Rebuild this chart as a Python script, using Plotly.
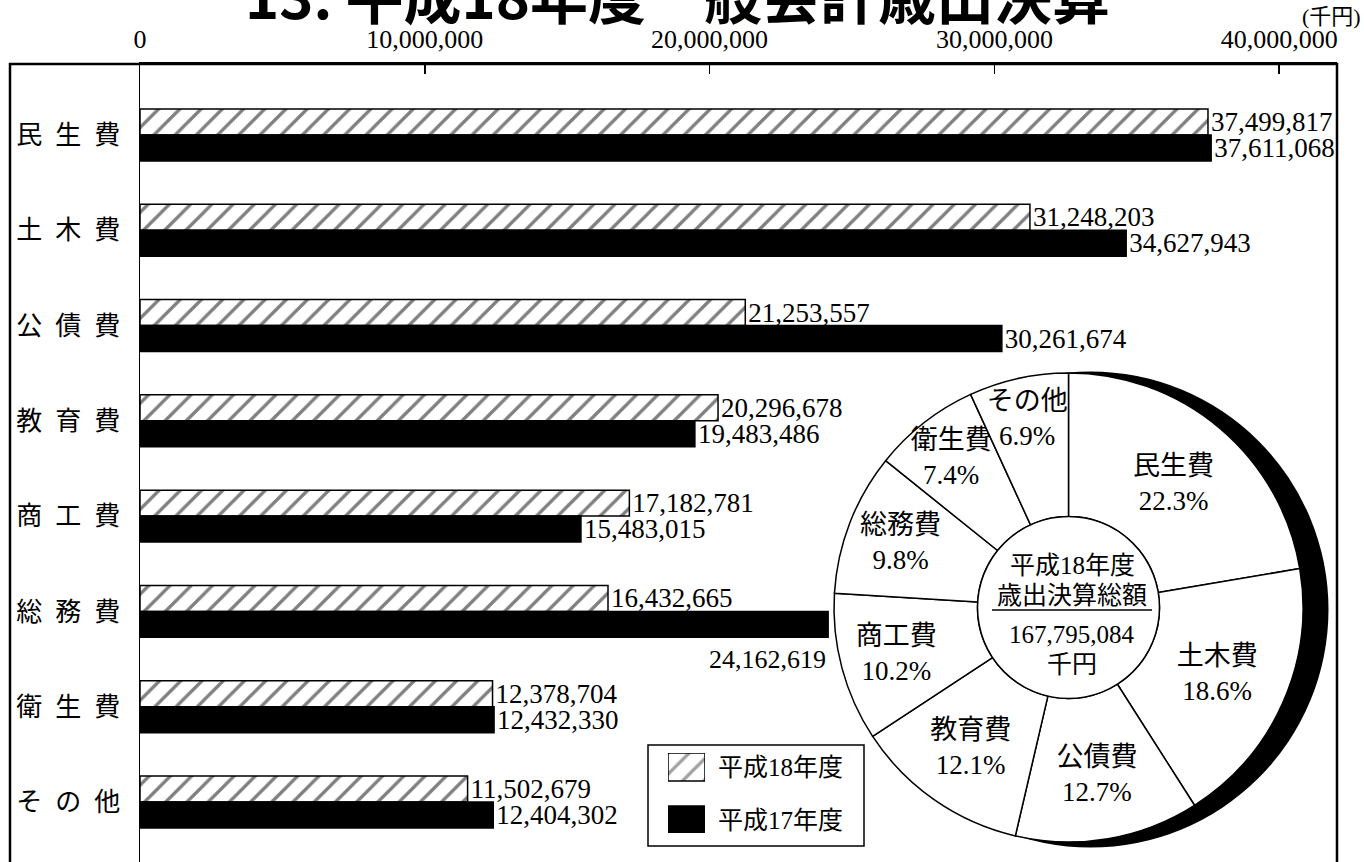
import plotly.graph_objects as go

# ---------------- data ----------------
categories = ["民生費", "土木費", "公債費", "教育費", "商工費", "総務費", "衛生費", "その他"]
category_labels = ["民\u2002生\u2002費", "土\u2002木\u2002費", "公\u2002債\u2002費", "教\u2002育\u2002費",
                   "商\u2002工\u2002費", "総\u2002務\u2002費", "衛\u2002生\u2002費", "そ\u2002の\u2002他"]
h18_values = [37499817, 31248203, 21253557, 20296678, 17182781, 16432665, 12378704, 11502679]
h17_values = [37611068, 34627943, 30261674, 19483486, 15483015, 24162619, 12432330, 12404302]
series_names = ["平成18年度", "平成17年度"]
x_tick_values = [0, 10000000, 20000000, 30000000, 40000000]
title_text = "13. 平成18年度一般会計歳出決算"
unit_text = "(千円)"
center_title = ["平成18年度", "歳出決算総額"]
center_unit = "千円"

# ---------------- layout helpers ----------------
W, H = 1364, 862
PL, PR, PT, PB = 140, 1337, 64, 862


def px(x):
    return (x - PL) / (PR - PL)


def py(y):
    return (PB - y) / (PB - PT)


FONT = "Liberation Serif, Noto Sans CJK JP, serif"
HATCH = dict(shape="/", fgcolor="black", bgcolor="white", size=15, solidity=0.22)

fig = go.Figure()

# bar text positions: the 総務費 平成17年度 label is placed below the bar (annotation)
special = "総務費"
h17_textpos = ["none" if c == special else "outside" for c in categories]

fig.add_trace(go.Bar(
    y=categories, x=h18_values, orientation="h", name=series_names[0],
    marker=dict(color="white", line=dict(color="black", width=1.5), pattern=HATCH),
    texttemplate="%{x:,}", textposition="outside", cliponaxis=False, constraintext="none",
    textfont=dict(family=FONT, size=26, color="black"), hoverinfo="skip", showlegend=False,
))
fig.add_trace(go.Bar(
    y=categories, x=h17_values, orientation="h", name=series_names[1],
    marker=dict(color="black", line=dict(color="black", width=1.5)),
    texttemplate="%{x:,}", textposition=h17_textpos, cliponaxis=False, constraintext="none",
    textfont=dict(family=FONT, size=26, color="black"), hoverinfo="skip", showlegend=False,
))

# legend swatches (own small axes so that the hatch pattern is drawn by plotly)
fig.add_trace(go.Bar(
    y=series_names, x=[1, 1], orientation="h", xaxis="x2", yaxis="y2", width=0.53,
    marker=dict(color=["white", "black"], line=dict(color="black", width=1.5),
                pattern=dict(shape=["/", ""], fgcolor="black", bgcolor="white", size=15, solidity=0.22)),
    showlegend=False, hoverinfo="skip",
))

# pie (donut) of 平成18年度
pie_left, pie_right, pie_top, pie_bottom = 834, 1303, 373, 842
pie_cx, pie_cy = (pie_left + pie_right) / 2, (pie_top + pie_bottom) / 2
pie_r = (pie_right - pie_left) / 2
hole = 0.388
fig.add_trace(go.Pie(
    labels=categories, values=h18_values, sort=False, direction="clockwise", rotation=0,
    hole=hole,
    marker=dict(colors=["white"] * len(categories), line=dict(color="black", width=1.5)),
    texttemplate="%{label}<br>%{percent:.1%}", textposition="inside",
    insidetextorientation="horizontal",
    textfont=dict(family=FONT, size=27, color="black"),
    domain=dict(x=[px(pie_left), px(pie_right)], y=[py(pie_bottom), py(pie_top)]),
    showlegend=False, hoverinfo="skip",
))

annotations = []
# 総務費 平成17年度 label
idx = categories.index(special)
annotations.append(dict(
    x=h17_values[idx], y=special, xref="x", yref="y", text=f"{h17_values[idx]:,}",
    xanchor="right", yanchor="middle", yshift=-48, showarrow=False,
    font=dict(family=FONT, size=26, color="black"),
))
# title (cut off at top of the page)
annotations.append(dict(
    x=px(677), y=py(-6), xref="paper", yref="paper", text=title_text, showarrow=False,
    xanchor="center", yanchor="middle",
    font=dict(family="Noto Sans CJK JP", size=58, color="black", weight="bold"),
))
annotations.append(dict(
    x=px(1363), y=py(17), xref="paper", yref="paper", text=unit_text, showarrow=False,
    xanchor="right", yanchor="middle", font=dict(family=FONT, size=22, color="black"),
))
# legend texts
for name, yy in zip(series_names, [767, 820]):
    annotations.append(dict(
        x=px(716), y=py(yy), xref="paper", yref="paper", text=name, showarrow=False,
        xanchor="left", yanchor="middle", font=dict(family=FONT, size=25, color="black"),
    ))
# center of donut
total = sum(h18_values)
for txt, yy in [(center_title[0], 565), (center_title[1], 595), (f"{total:,}", 634), (center_unit, 664)]:
    annotations.append(dict(
        x=px(1072), y=py(yy), xref="paper", yref="paper", text=txt, showarrow=False,
        xanchor="center", yanchor="middle", font=dict(family=FONT, size=25, color="black"),
    ))

hr = pie_r * hole
shapes = [
    # shadow crescent behind donut
    dict(type="circle", xref="paper", yref="paper", layer="below",
         x0=px(pie_cx + 22 - 238), x1=px(pie_cx + 22 + 238),
         y0=py(pie_cy + 2 + 238), y1=py(pie_cy + 2 - 238),
         fillcolor="black", line=dict(color="black", width=0)),
    # white hole of donut
    dict(type="circle", xref="paper", yref="paper", layer="above",
         x0=px(pie_cx - hr), x1=px(pie_cx + hr), y0=py(pie_cy + hr), y1=py(pie_cy - hr),
         fillcolor="white", line=dict(color="black", width=1.5)),
    # underline in donut center
    dict(type="line", xref="paper", yref="paper", x0=px(992), x1=px(1152), y0=py(610), y1=py(610),
         line=dict(color="black", width=1.5), layer="above"),
    # legend box
    dict(type="rect", xref="paper", yref="paper", x0=px(648), x1=px(864), y0=py(846), y1=py(745),
         fillcolor="rgba(0,0,0,0)", line=dict(color="black", width=1.5), layer="above"),
    # outer frame
    dict(type="rect", xref="paper", yref="paper", x0=px(10), x1=1.0, y0=py(920), y1=1.0,
         line=dict(color="black", width=2.5), layer="above"),
]

fig.update_layout(
    width=W, height=H, autosize=False,
    margin=dict(l=PL, r=W - PR, t=PT, b=0, pad=0),
    paper_bgcolor="white", plot_bgcolor="white",
    barmode="group", bargap=0.455, bargroupgap=0,
    uniformtext=dict(minsize=27, mode="show"),
    font=dict(family=FONT, color="black"),
    annotations=annotations, shapes=shapes,
    showlegend=False,
    xaxis=dict(
        side="top", range=[0, 42.03e6], tickvals=x_tick_values, tickformat=",",
        ticks="inside", ticklen=10, tickwidth=1.5, tickcolor="black",
        showline=True, linewidth=2.5, linecolor="black", showgrid=False, zeroline=False,
        tickfont=dict(family=FONT, size=26, color="black"), ticklabelstandoff=3,
        automargin=False,
    ),
    yaxis=dict(
        type="category", categoryorder="array", categoryarray=categories,
        range=[7.63, -0.745], tickvals=categories, ticktext=category_labels,
        showline=True, linewidth=1.5, linecolor="black", showgrid=False, zeroline=False,
        ticks="", ticklabelstandoff=13, automargin=False,
        tickfont=dict(family="Noto Sans CJK JP", size=26, color="black"),
    ),
    xaxis2=dict(domain=[px(668), px(705)], range=[0, 1], anchor="y2", visible=False,
                automargin=False),
    yaxis2=dict(domain=[py(833), py(753)], type="category", categoryorder="array",
                categoryarray=series_names, range=[1.245, -0.264], anchor="x2", visible=False,
                automargin=False),
)

fig.write_html("out.html",
               config={"displayModeBar": False, "staticPlot": True},
               post_script="document.body.style.margin='0';document.body.style.overflow='hidden';")
